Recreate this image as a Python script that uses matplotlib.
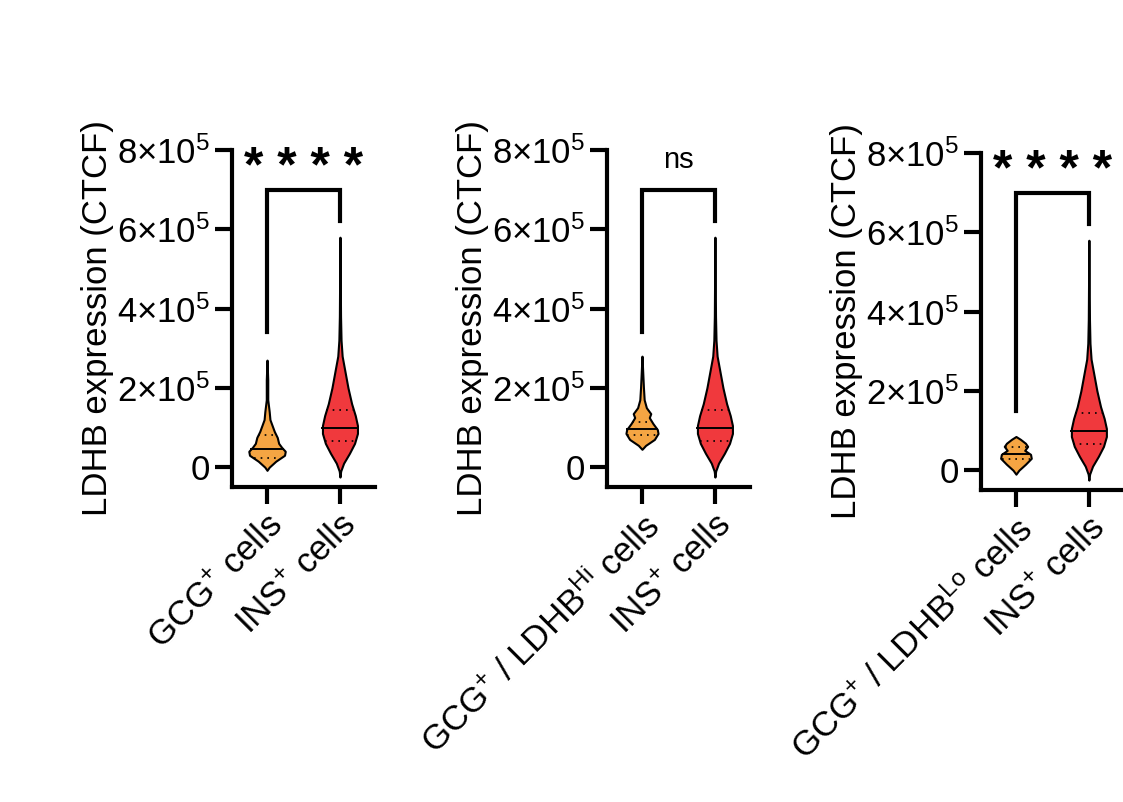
import numpy as np
import matplotlib.pyplot as plt

plt.rcParams['font.family'] = 'Liberation Sans'
plt.rcParams['mathtext.fontset'] = 'custom'
plt.rcParams['mathtext.rm'] = 'Liberation Sans'
plt.rcParams['mathtext.it'] = 'Liberation Sans'

# violin profiles: y in units of 1e5, half widths in category units
gcg1_y = [-0.08, 0, 0.15, 0.3, 0.4, 0.5, 0.6, 0.75, 0.9, 1.05, 1.2, 1.4, 1.7, 2.2, 2.7]
gcg1_w = [0, 0.03, 0.12, 0.24, 0.25, 0.2, 0.16, 0.14, 0.1, 0.07, 0.04, 0.03, 0.01, 0.01, 0]
gcg2_y = [0.45, 0.55, 0.7, 0.85, 0.95, 1.1, 1.25, 1.35, 1.5, 1.7, 2.0, 2.4, 2.8]
gcg2_w = [0, 0.05, 0.17, 0.22, 0.21, 0.15, 0.1, 0.12, 0.06, 0.03, 0.02, 0.01, 0]
gcg3_y = [-0.1, 0, 0.15, 0.3, 0.4, 0.5, 0.6, 0.68, 0.78, 0.85]
gcg3_w = [0, 0.04, 0.13, 0.21, 0.2, 0.12, 0.16, 0.13, 0.06, 0]
ins_y = [-0.25, -0.1, 0.1, 0.35, 0.6, 0.85, 1.05, 1.3, 1.6, 2.0, 2.4, 2.8, 3.2, 3.8, 4.6, 5.8]
ins_w = [0, 0.01, 0.05, 0.13, 0.2, 0.24, 0.24, 0.21, 0.16, 0.11, 0.07, 0.03, 0.015, 0.008, 0.005, 0]
# median, lower quartile, upper quartile (1e5)
gcg1_q = [0.45, 0.22, 0.8]
gcg2_q = [0.95, 0.8, 1.15]
gcg3_q = [0.42, 0.27, 0.58]
ins_q = [1.0, 0.67, 1.45]

panels = [
    dict(y=gcg1_y, w=gcg1_w, q=gcg1_q, lab='GCG$^{+}$ cells', sig='****', leg=3.4),
    dict(y=gcg2_y, w=gcg2_w, q=gcg2_q, lab='GCG$^{+}$ / LDHB$^{\\mathrm{Hi}}$ cells', sig='ns', leg=3.4),
    dict(y=gcg3_y, w=gcg3_w, q=gcg3_q, lab='GCG$^{+}$ / LDHB$^{\\mathrm{Lo}}$ cells', sig='****', leg=1.5),
]
ins_label = 'INS$^{+}$ cells'
yticks = [0, 2, 4, 6, 8]
ytick_labels = ['0', '2×10$^{5}$', '4×10$^{5}$', '6×10$^{5}$', '8×10$^{5}$']

orange = '#F5A543'
red = '#F0393D'

fig = plt.figure(figsize=(11.23, 8.02), dpi=100)
lefts = [0.2066, 0.5405, 0.8735]
bottoms = [0.3928, 0.3928, 0.389]


def violin(ax, x, ys, ws, q, color):
    s = 1e5
    yy = [v * s for v in ys]
    ax.fill_betweenx(yy, [x - w for w in ws], [x + w for w in ws],
                     facecolor=color, edgecolor='black', linewidth=1.5, zorder=2)
    for i, v in enumerate(q):
        hw = float(np.interp(v, ys, ws))
        ax.plot([x - hw, x + hw], [v * s, v * s], color='black',
                lw=1.4 if i == 0 else 1.2, ls='-' if i == 0 else (0, (1, 3)), zorder=3)


for p, l, b in zip(panels, lefts, bottoms):
    ax = fig.add_axes([l, b, 0.1273, 0.4202])
    violin(ax, 0, p['y'], p['w'], p['q'], orange)
    violin(ax, 1, ins_y, ins_w, ins_q, red)
    ax.plot([0, 0, 1, 1], [p['leg'] * 1e5, 7e5, 7e5, 6.2e5], color='black', lw=3,
            solid_joinstyle='miter')
    if p['sig'] == 'ns':
        ax.text(0.5, 7.4e5, 'ns', ha='center', va='bottom', fontsize=21)
    else:
        ax.text(0.5, 6.95e5, '* * * *', ha='center', va='bottom', fontsize=36,
                fontweight='bold')
    ax.set_xlim(-0.48, 1.48)
    ax.set_ylim(-0.5e5, 8e5)
    ax.set_yticks([t * 1e5 for t in yticks])
    ax.set_yticklabels(ytick_labels, fontsize=25)
    ax.set_xticks([0, 1])
    ax.set_xticklabels([p['lab'], ins_label], rotation=45, ha='right',
                       rotation_mode='anchor', fontsize=25)
    ax.set_ylabel('LDHB expression (CTCF)', fontsize=25, labelpad=2)
    for sp in ['top', 'right']:
        ax.spines[sp].set_visible(False)
    for sp in ['left', 'bottom']:
        ax.spines[sp].set_linewidth(3)
    ax.spines['left'].set_bounds(-0.5e5, 8e5)
    ax.tick_params(width=3, length=12, pad=4)

fig.savefig('out.png', dpi=100)
